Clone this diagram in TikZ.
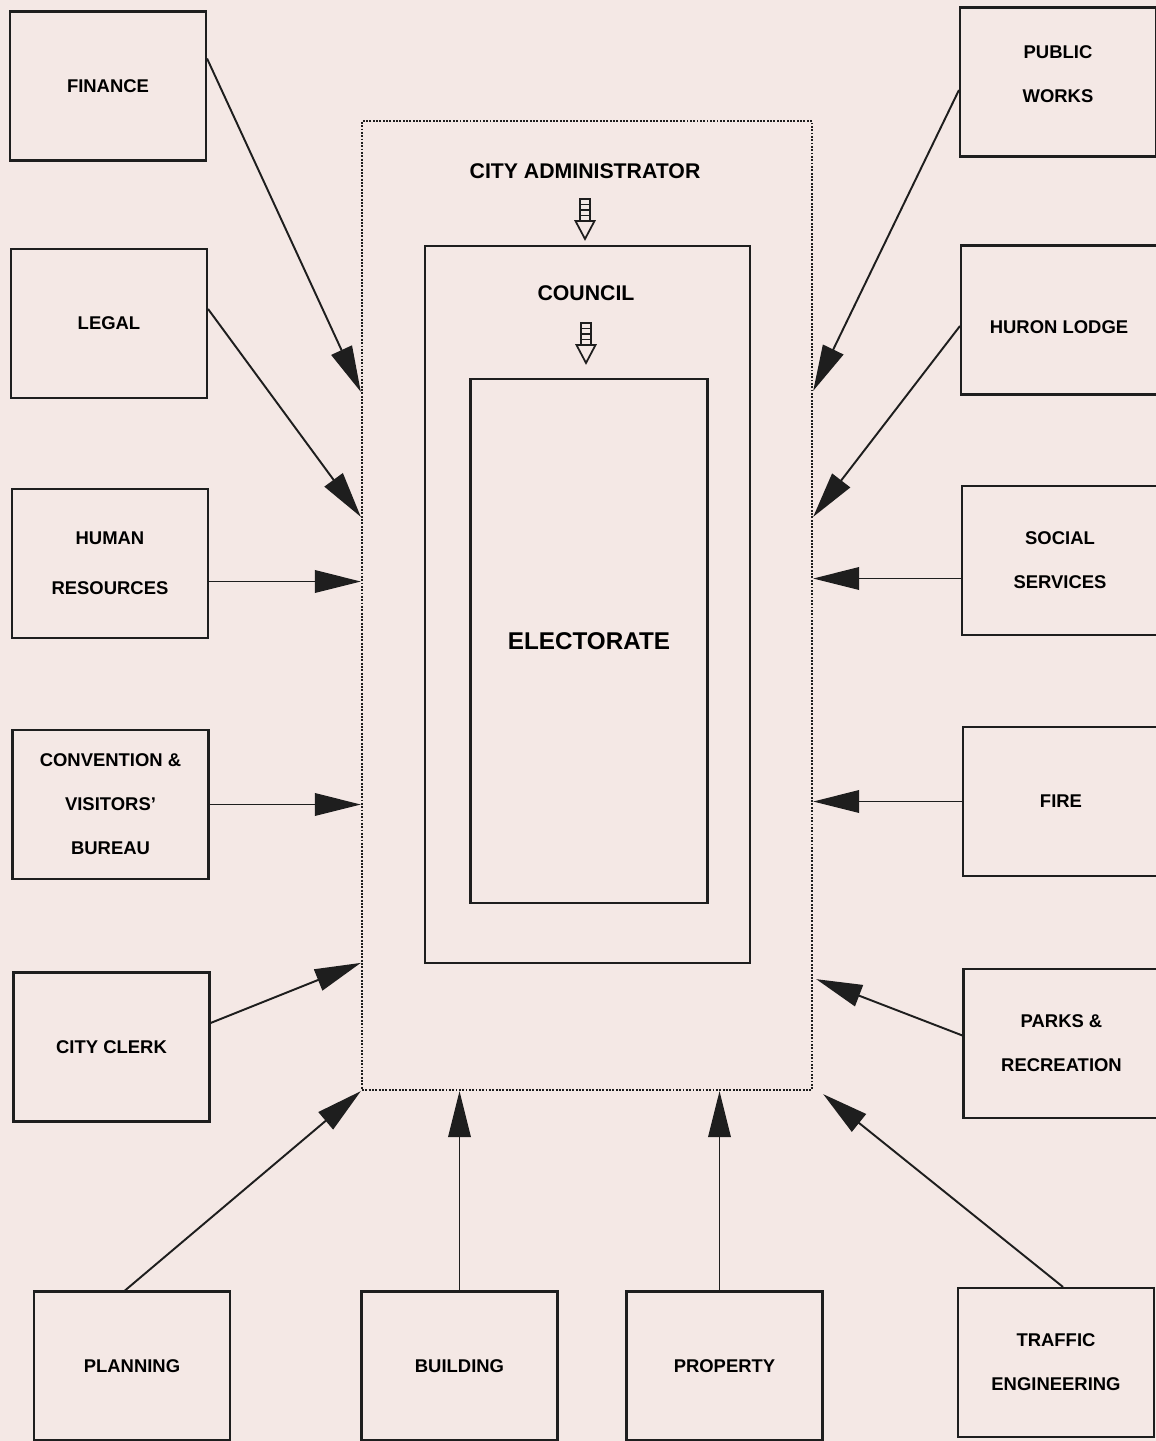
\documentclass[tikz,border=0pt]{standalone}
\usepackage{fontspec}
\setmainfont{Liberation Sans}
\usetikzlibrary{arrows.meta, positioning, calc}
\definecolor{paper}{RGB}{244,232,229}
\definecolor{ink}{RGB}{30,30,30}

\tikzset{
    ladderarrow/.pic={
        \draw[line width=1pt, draw=ink] (-5,0) rectangle (5,22);
        \foreach \r in {5.5,11,16.5}
            \draw[line width=1pt, draw=ink] (-5,\r) -- (5,\r);
        \draw[line width=1pt, draw=ink, fill=paper] (-9.5,22) -- (9.5,22) -- (0,40) -- cycle;
    }
}

\begin{document}
\begin{tikzpicture}[
    x=0.02cm, y=-0.02cm,
    dept/.style={
        draw=ink,
        rectangle,
        minimum width=3.92cm,
        minimum height=2.98cm,
        inner sep=0pt,
        align=center,
        line width=1.2pt,
        font=\fontsize{10.5}{25}\selectfont\bfseries
    },
    frame/.style={
        draw=ink,
        rectangle,
        inner sep=0pt,
        line width=1.2pt
    },
    arrow/.style={
        -{Triangle[length=0.92cm,width=0.45cm]},
        line width=1.1pt,
        draw=ink
    },
    head/.style={
        inner sep=0pt,
        font=\fontsize{12.1}{15}\selectfont\bfseries
    }
]

\path[use as bounding box, fill=paper] (0,0) rectangle (1156,1441);

% ============================================================
% Centre: administrator, council, electorate
% ============================================================

\node[frame, line width=1.4pt, dash pattern=on 1.1pt off 0.8pt,
      minimum width=9cm, minimum height=19.38cm] (admin) at (587,605.5) {};
\node[frame, minimum width=6.5cm, minimum height=14.34cm] (council) at (587.5,604.5) {};
\node[frame, minimum width=4.74cm, minimum height=10.48cm] (elect) at (589,641) {};

\node[head] (cityadmin) at (585,171) {CITY ADMINISTRATOR};
\node[head] (councillabel) at (586,293) {COUNCIL};
\node[inner sep=0pt, font=\fontsize{13.8}{17}\selectfont\bfseries] (electlabel) at (589,641) {ELECTORATE};

\pic at (585,199) {ladderarrow};
\pic at (586,323) {ladderarrow};

% ============================================================
% Departments: left, bottom, right
% ============================================================

\node[dept] (finance) at (108,86)    {FINANCE};
\node[dept] (legal)   at (109,323.5) {LEGAL};
\node[dept] (hr)      at (110,563.5) {HUMAN\\[3.5pt]RESOURCES};
\node[dept] (conv)    at (110.5,804.5) {CONVENTION \&\\VISITORS'\\BUREAU};
\node[dept] (clerk)   at (111.5,1047) {CITY CLERK};

\node[dept] (planning) at (132,1366)   {PLANNING};
\node[dept] (building) at (459.5,1366) {BUILDING};
\node[dept] (property) at (724.5,1366) {PROPERTY};
\node[dept] (traffic)  at (1056,1362.5) {TRAFFIC\\ENGINEERING};

\node[dept] (works)  at (1058,82)     {PUBLIC\\WORKS\\[-16pt]\mbox{}};
\node[dept] (huron)  at (1059,320)    {\raisebox{-7.8pt}[0pt][0pt]{HURON LODGE}};
\node[dept] (social) at (1060,560.5)  {SOCIAL\\SERVICES};
\node[dept] (fire)   at (1061,801.5)  {FIRE};
\node[dept] (parks)  at (1061.5,1043.5) {PARKS \&\\RECREATION};

% ============================================================
% Arrows into the administrator frame
% ============================================================

\coordinate (hrout)   at ($(hr.east)+(0,18)$);
\coordinate (propout) at ($(property.north)+(-5,0)$);
\coordinate (socout)  at ($(social.west)+(0,18)$);

\draw[arrow] ($(finance.north east)+(0,48)$) -- ($(admin.north west)+(0,272)$);
\draw[arrow] ($(legal.north east)+(0,61)$) -- ($(admin.north west)+(0,397)$);
\draw[arrow] (hrout) -- (hrout -| admin.west);
\draw[arrow] (conv.east) -- (conv.east -| admin.west);
\draw[arrow] ($(clerk.east)+(0,-24)$) -- ($(admin.north west)+(0,843)$);

\draw[arrow] ($(planning.north)+(-7,0)$) -- (admin.south west);
\draw[arrow] (building.north) -- (building.north |- admin.south);
\draw[arrow] (propout) -- (propout |- admin.south);
\draw[arrow] ($(traffic.north)+(7,0)$) -- ($(admin.south east)+(10,3)$);

\draw[arrow] ($(parks.west)+(0,-8)$) -- ($(admin.south east)+(3,-112)$);
\draw[arrow] (fire.west) -- (fire.west -| admin.east);
\draw[arrow] (socout) -- (socout -| admin.east);
\draw[arrow] ($(huron.west)+(0,6)$) -- ($(admin.north east)+(0,397)$);
\draw[arrow] ($(works.west)+(0,8)$) -- ($(admin.north east)+(0,271)$);
\end{tikzpicture}
\end{document}
